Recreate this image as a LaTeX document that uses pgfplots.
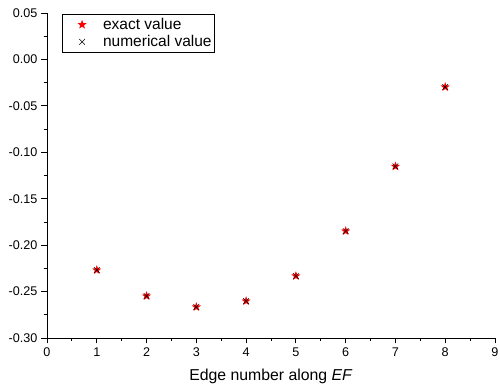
\documentclass[border=0pt]{standalone}
\usepackage{pgfplots}
\pgfplotsset{compat=1.18}
\usepackage{fontspec}
\setmainfont{Liberation Sans}
\pgfdeclareplotmark{fstar}{%
  \pgfpathmoveto{\pgfqpointpolar{90}{\pgfplotmarksize}}%
  \pgfpathlineto{\pgfqpointpolar{126}{0.42\pgfplotmarksize}}%
  \pgfpathlineto{\pgfqpointpolar{162}{\pgfplotmarksize}}%
  \pgfpathlineto{\pgfqpointpolar{198}{0.42\pgfplotmarksize}}%
  \pgfpathlineto{\pgfqpointpolar{234}{\pgfplotmarksize}}%
  \pgfpathlineto{\pgfqpointpolar{270}{0.42\pgfplotmarksize}}%
  \pgfpathlineto{\pgfqpointpolar{306}{\pgfplotmarksize}}%
  \pgfpathlineto{\pgfqpointpolar{342}{0.42\pgfplotmarksize}}%
  \pgfpathlineto{\pgfqpointpolar{18}{\pgfplotmarksize}}%
  \pgfpathlineto{\pgfqpointpolar{54}{0.42\pgfplotmarksize}}%
  \pgfpathclose
  \pgfusepathqfill}
\begin{document}
\begin{tikzpicture}
\begin{axis}[
  name=ax,
  scale only axis,
  width=448pt, height=325pt,
  xmin=0, xmax=9, ymin=-0.30, ymax=0.05,
  axis x line*=bottom, axis y line*=left,
  axis line style={-, line width=0.8pt},
  tick align=outside,
  major tick length=5.5pt, minor tick length=3pt,
  tick style={black, line width=0.8pt},
  xtick={0,1,...,9},
  minor x tick num=1,
  ytick={-0.30,-0.25,...,0.05},
  minor y tick num=1,
  /pgf/number format/assume math mode=true,
  yticklabel style={/pgf/number format/fixed, /pgf/number format/fixed zerofill, /pgf/number format/precision=2, xshift=-0.5pt},
  ticklabel style={font=\fontsize{12.6}{14}\selectfont},
  xticklabel style={yshift=-1pt},
  xlabel={Edge number along \textit{EF}},
  xlabel style={font=\fontsize{15.8}{18}\selectfont, yshift=-5pt},
  legend image code/.code={%
    \path[draw=none] (0pt,0pt) -- (38pt,0pt);
    \draw[#1, only marks] plot coordinates {(19pt,0pt)};},
  legend style={at={(0.033,0.997)}, anchor=north west, draw=black, line width=0.6pt,
    font=\fontsize{15.5}{17}\selectfont, inner xsep=1pt, inner ysep=2pt, row sep=0.5pt,
    legend cell align=left},
]
\addplot[only marks, mark=fstar, mark size=4.8pt, color=red] coordinates {
(1,-0.2268) (2,-0.2548) (3,-0.2666) (4,-0.2602) (5,-0.2332) (6,-0.1848) (7,-0.1152) (8,-0.0297)
};
\addlegendentry{exact value}
\addplot[only marks, mark=x, mark size=4pt, color=black, mark options={line width=0.5pt}] coordinates {
(1,-0.2268) (2,-0.2548) (3,-0.2666) (4,-0.2602) (5,-0.2332) (6,-0.1848) (7,-0.1152) (8,-0.0297)
};
\addlegendentry{numerical value}
\end{axis}
\pgfresetboundingbox
\path ([shift={(-47pt,-54pt)}]ax.south west) rectangle ([shift={(5pt,13pt)}]ax.north east);
\end{tikzpicture}
\end{document}
